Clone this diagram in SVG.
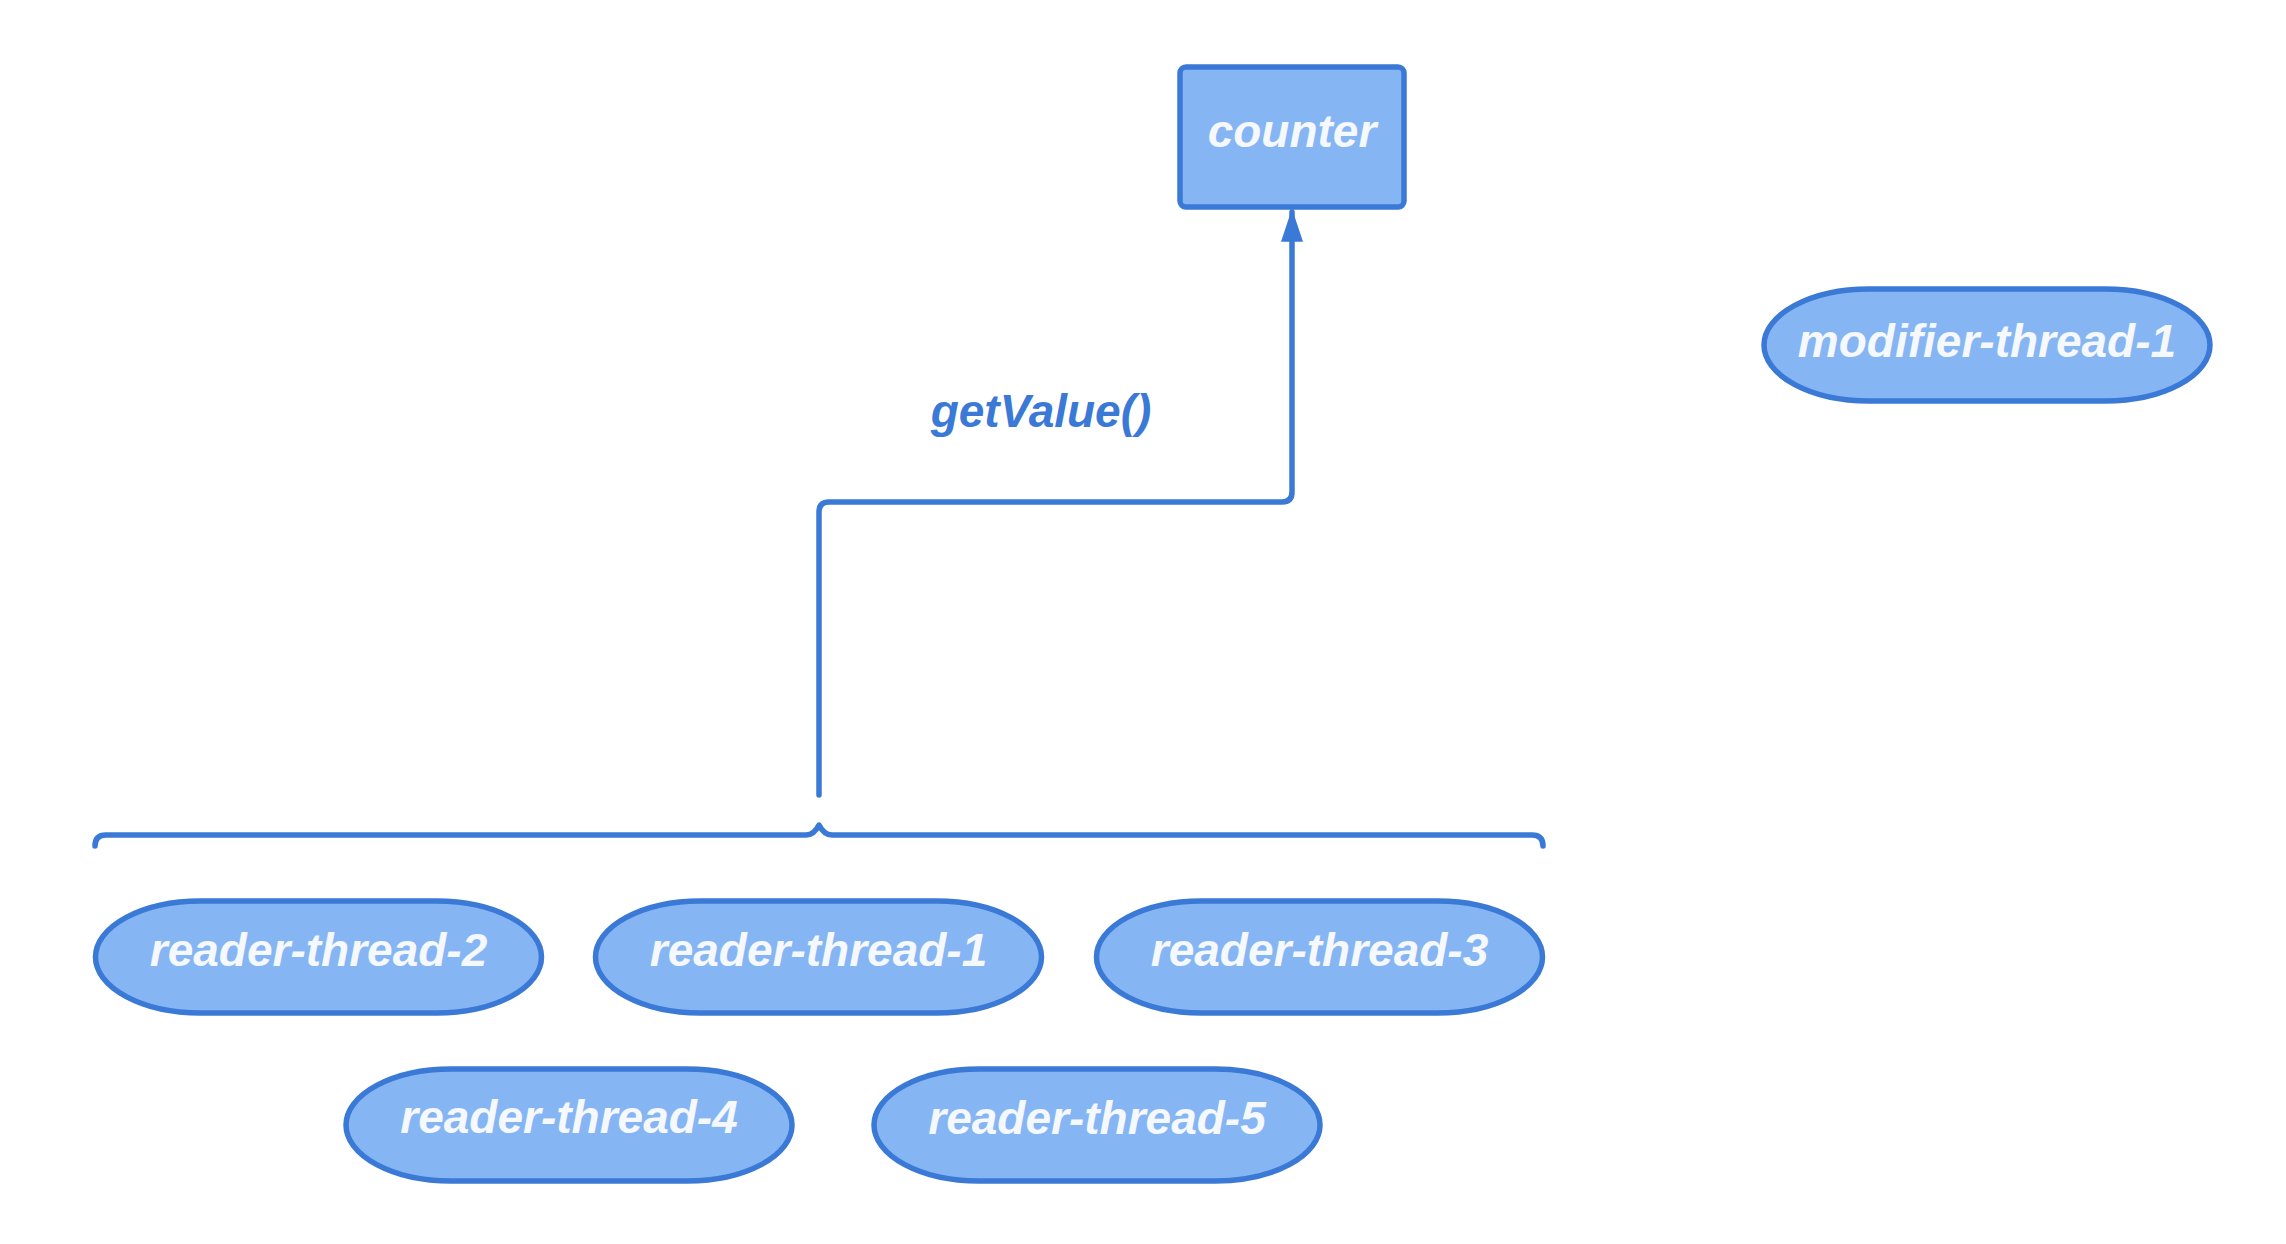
<svg xmlns="http://www.w3.org/2000/svg" width="2286" height="1244" viewBox="0 0 2286 1244">
  <style>
    .shape { fill: #86b5f4; stroke: #3a79d6; stroke-width: 5.5; }
    .label { font-family: "Liberation Sans", Arial, sans-serif; font-weight: bold; font-style: italic; font-size: 46px; fill: #f5f8fd; text-anchor: middle; }
    .edge { fill: none; stroke: #3a79d6; stroke-width: 5.5; stroke-linecap: round; stroke-linejoin: round; }
    .edge-label { font-family: "Liberation Sans", Arial, sans-serif; font-weight: bold; font-style: italic; font-size: 46px; fill: #3a79d6; text-anchor: middle; }
  </style>
  <defs>
    <marker id="arrow" viewBox="0 0 10 10" preserveAspectRatio="none" refX="9" refY="5" markerWidth="6" markerHeight="4" orient="auto" markerUnits="strokeWidth">
      <path d="M0,0 L10,5 L0,10 Z" fill="#3a79d6"/>
    </marker>
  </defs>
  <rect width="2286" height="1244" fill="#ffffff"/>

  <!-- connectors -->
  <g id="connectors">
    <path id="brace" class="edge" d="M95,846 Q95,835 106,835 L806,835 Q814,835 819,825 Q824,835 832,835 L1532,835 Q1543,835 1543,846"/>
    <path id="get-value" class="edge" marker-end="url(#arrow)" d="M819,795 L819,512 Q819,502 829,502 L1282,502 Q1292,502 1292,492 L1292,212"/>
    <text class="edge-label" x="1041" y="427">getValue()</text>
  </g>

  <g id="counter">
    <rect class="shape" x="1180" y="67" width="224" height="140" rx="6"/>
    <text class="label" x="1292" y="147">counter</text>
  </g>

  <g id="modifier-thread-1">
    <rect class="shape" x="1764" y="289" width="446" height="112" rx="105" ry="56"/>
    <text class="label" x="1987" y="357">modifier-thread-1</text>
  </g>

  <g id="reader-thread-2">
    <rect class="shape" x="95.5" y="901" width="446" height="112" rx="105" ry="56"/>
    <text class="label" x="318.5" y="966">reader-thread-2</text>
  </g>

  <g id="reader-thread-1">
    <rect class="shape" x="595.5" y="901" width="446" height="112" rx="105" ry="56"/>
    <text class="label" x="818.5" y="966">reader-thread-1</text>
  </g>

  <g id="reader-thread-3">
    <rect class="shape" x="1096.5" y="901" width="446" height="112" rx="105" ry="56"/>
    <text class="label" x="1319.5" y="966">reader-thread-3</text>
  </g>

  <g id="reader-thread-4">
    <rect class="shape" x="346" y="1069" width="446" height="112" rx="105" ry="56"/>
    <text class="label" x="569" y="1133">reader-thread-4</text>
  </g>

  <g id="reader-thread-5">
    <rect class="shape" x="874" y="1069" width="446" height="112" rx="105" ry="56"/>
    <text class="label" x="1097" y="1134">reader-thread-5</text>
  </g>
</svg>
